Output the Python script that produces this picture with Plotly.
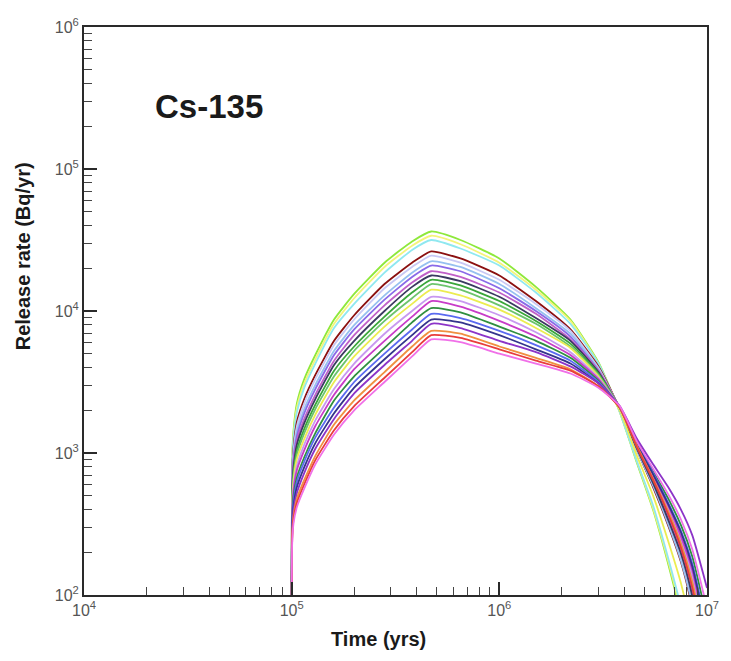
import plotly.graph_objects as go

# Time grid (years)
time_yrs = [1.0e5, 1.005e5, 1.02e5, 1.06e5, 1.15e5, 1.3e5, 1.6e5, 2.0e5, 2.8e5, 3.8e5,
            4.7e5, 6.5e5, 1.0e6, 1.5e6, 2.2e6, 3.0e6, 3.8e6, 4.6e6, 5.5e6, 6.5e6,
            7.5e6, 8.5e6, 1.0e7]

# log10 of release rate (Bq/yr) for each realisation
r01 = [1.5, 2.95, 3.15, 3.35, 3.52, 3.69, 3.94, 4.12, 4.34, 4.49, 4.56, 4.50, 4.37, 4.17, 3.94, 3.64, 3.29, 2.93, 2.60, 2.22, 1.85, 1.40, 0.60]
r02 = [1.5, 2.93, 3.12, 3.32, 3.49, 3.66, 3.91, 4.09, 4.31, 4.46, 4.53, 4.47, 4.34, 4.15, 3.93, 3.63, 3.29, 2.94, 2.61, 2.24, 1.88, 1.44, 0.66]
r03 = [1.5, 2.90, 3.10, 3.29, 3.46, 3.63, 3.88, 4.05, 4.27, 4.43, 4.50, 4.44, 4.32, 4.13, 3.91, 3.63, 3.29, 2.94, 2.63, 2.26, 1.91, 1.48, 0.72]
r04 = [1.5, 2.84, 3.03, 3.22, 3.38, 3.55, 3.79, 3.97, 4.19, 4.34, 4.42, 4.37, 4.25, 4.07, 3.87, 3.61, 3.31, 3.02, 2.76, 2.49, 2.23, 1.91, 1.33]
r05 = [1.5, 2.82, 3.01, 3.19, 3.35, 3.52, 3.76, 3.94, 4.16, 4.31, 4.39, 4.34, 4.22, 4.05, 3.86, 3.60, 3.31, 3.02, 2.78, 2.52, 2.26, 1.96, 1.40]
r06 = [1.5, 2.79, 2.97, 3.15, 3.31, 3.48, 3.72, 3.90, 4.11, 4.27, 4.35, 4.31, 4.19, 4.02, 3.84, 3.59, 3.31, 3.02, 2.77, 2.50, 2.24, 1.93, 1.35]
r07 = [1.5, 2.76, 2.95, 3.12, 3.28, 3.45, 3.69, 3.87, 4.08, 4.24, 4.32, 4.28, 4.16, 4.00, 3.82, 3.58, 3.31, 3.03, 2.79, 2.54, 2.30, 2.01, 1.47]
r08 = [1.5, 2.73, 2.92, 3.09, 3.24, 3.41, 3.65, 3.83, 4.04, 4.20, 4.28, 4.24, 4.13, 3.98, 3.80, 3.58, 3.32, 3.04, 2.80, 2.56, 2.32, 2.03, 1.50]
r09 = [1.5, 2.71, 2.89, 3.06, 3.21, 3.38, 3.62, 3.79, 4.00, 4.17, 4.25, 4.21, 4.10, 3.95, 3.79, 3.57, 3.31, 3.03, 2.79, 2.53, 2.29, 1.99, 1.44]
r10 = [1.5, 2.68, 2.86, 3.02, 3.17, 3.34, 3.58, 3.75, 3.96, 4.13, 4.22, 4.18, 4.07, 3.93, 3.77, 3.56, 3.32, 3.04, 2.81, 2.58, 2.35, 2.07, 1.56]
r11 = [1.5, 2.66, 2.83, 2.99, 3.14, 3.31, 3.54, 3.72, 3.93, 4.09, 4.19, 4.15, 4.04, 3.91, 3.75, 3.55, 3.32, 3.05, 2.82, 2.60, 2.38, 2.11, 1.62]
r12 = [1.5, 2.63, 2.80, 2.96, 3.10, 3.27, 3.50, 3.68, 3.89, 4.05, 4.15, 4.11, 4.01, 3.88, 3.74, 3.54, 3.30, 2.98, 2.70, 2.38, 2.08, 1.71, 1.04]
r13 = [1.5, 2.59, 2.76, 2.91, 3.06, 3.23, 3.45, 3.63, 3.84, 4.00, 4.10, 4.07, 3.97, 3.85, 3.71, 3.53, 3.32, 3.05, 2.83, 2.61, 2.39, 2.13, 1.64]
r14 = [1.5, 2.56, 2.73, 2.88, 3.02, 3.19, 3.41, 3.59, 3.79, 3.96, 4.07, 4.03, 3.93, 3.82, 3.69, 3.52, 3.32, 3.06, 2.84, 2.63, 2.41, 2.17, 1.69]
r15 = [1.5, 2.52, 2.69, 2.83, 2.97, 3.14, 3.37, 3.54, 3.74, 3.92, 4.02, 3.99, 3.89, 3.79, 3.67, 3.51, 3.32, 3.08, 2.87, 2.68, 2.49, 2.27, 1.83]
r16 = [1.5, 2.49, 2.66, 2.80, 2.94, 3.11, 3.32, 3.50, 3.70, 3.87, 3.98, 3.95, 3.86, 3.76, 3.65, 3.50, 3.32, 3.07, 2.86, 2.65, 2.45, 2.22, 1.76]
r17 = [1.5, 2.46, 2.62, 2.76, 2.90, 3.07, 3.28, 3.46, 3.66, 3.83, 3.94, 3.92, 3.83, 3.73, 3.63, 3.49, 3.32, 3.06, 2.85, 2.64, 2.44, 2.20, 1.73]
r18 = [1.5, 2.43, 2.59, 2.72, 2.86, 3.03, 3.24, 3.42, 3.62, 3.79, 3.91, 3.88, 3.79, 3.71, 3.61, 3.49, 3.33, 3.10, 2.92, 2.76, 2.60, 2.42, 2.05]
r19 = [1.5, 2.40, 2.55, 2.68, 2.81, 2.98, 3.20, 3.37, 3.57, 3.75, 3.86, 3.84, 3.75, 3.67, 3.59, 3.47, 3.32, 3.05, 2.82, 2.59, 2.36, 2.09, 1.59]
r20 = [1.5, 2.37, 2.53, 2.65, 2.78, 2.95, 3.16, 3.33, 3.53, 3.71, 3.83, 3.81, 3.73, 3.65, 3.58, 3.47, 3.32, 3.04, 2.81, 2.57, 2.33, 2.05, 1.53]
r21 = [1.5, 2.35, 2.50, 2.62, 2.75, 2.92, 3.13, 3.30, 3.50, 3.68, 3.80, 3.78, 3.70, 3.63, 3.56, 3.46, 3.33, 3.08, 2.89, 2.71, 2.53, 2.32, 1.91]

curves = [r01, r02, r03, r04, r05, r06, r07, r08, r09, r10, r11,
          r12, r13, r14, r15, r16, r17, r18, r19, r20, r21]
colors = ["#8ee83a", "#f4f47a", "#8fe8f0", "#8b1010", "#c8c8f4", "#96c0f0", "#8a6ae8",
          "#c060c8", "#3a3a60", "#3aa63a", "#6cc46c", "#ecec50", "#c898f0", "#c83cc8",
          "#2f8f3f", "#5a6af0", "#34348c", "#8c34c8", "#f09040", "#e83c3c", "#f070e8"]

x_ticks = [1e4, 1e5, 1e6, 1e7]
x_ticktext = ["10<sup>4</sup>", "10<sup>5</sup>", "10<sup>6</sup>", "10<sup>7</sup>"]
y_ticks = [1e2, 1e3, 1e4, 1e5, 1e6]
y_ticktext = ["10<sup>2</sup>", "10<sup>3</sup>", "10<sup>4</sup>", "10<sup>5</sup>", "10<sup>6</sup>"]

x_minor = [m * 10 ** e for e in range(4, 7) for m in range(2, 10)]
y_minor = [m * 10 ** e for e in range(2, 6) for m in range(2, 10)]

fig = go.Figure()
for vals, col in zip(curves, colors):
    fig.add_trace(go.Scatter(
        x=time_yrs, y=[10 ** v for v in vals], mode="lines",
        line=dict(color=col, width=1.8, shape="spline", smoothing=0.5),
        showlegend=False))

font_family = "Arial, Liberation Sans, sans-serif"
axis_common = dict(
    showline=True, linecolor="#2a2a2a", linewidth=2, mirror=True,
    ticks="inside", ticklen=13, tickwidth=2, tickcolor="#2a2a2a",
    showgrid=False, zeroline=False,
    tickfont=dict(family=font_family, size=16, color="#555555"),
)

fig.update_layout(
    width=731, height=661,
    margin=dict(l=84, r=21, t=27, b=66),
    paper_bgcolor="white", plot_bgcolor="white",
    xaxis=dict(type="log", range=[4, 7], tickmode="array", tickvals=x_ticks,
               ticktext=x_ticktext,
               minor=dict(tickmode="array", tickvals=x_minor, ticks="inside",
                          ticklen=8, tickwidth=1, tickcolor="#444444", showgrid=False),
               **axis_common),
    yaxis=dict(type="log", range=[2, 6], tickmode="array", tickvals=y_ticks,
               ticktext=y_ticktext,
               minor=dict(tickmode="array", tickvals=y_minor, ticks="inside",
                          ticklen=8, tickwidth=1, tickcolor="#444444", showgrid=False),
               **axis_common),
    annotations=[
        dict(text="<b>Cs-135</b>", xref="paper", yref="paper", x=0.11, y=0.86,
             xanchor="left", yanchor="middle", showarrow=False,
             font=dict(family=font_family, size=33, color="#1a1a1a")),
        dict(text="<b>Time (yrs)</b>", xref="paper", yref="paper",
             x=(380 - 84) / 626, y=-0.078, xanchor="center", yanchor="middle",
             showarrow=False, font=dict(family=font_family, size=20, color="#1a1a1a")),
        dict(text="<b>Release rate (Bq/yr)</b>", xref="paper", yref="paper",
             x=(23 - 84) / 626, y=(595 - 256) / 568, xanchor="center", yanchor="middle",
             textangle=-90, showarrow=False,
             font=dict(family=font_family, size=20, color="#1a1a1a")),
    ],
)

fig.write_html("out.html")
